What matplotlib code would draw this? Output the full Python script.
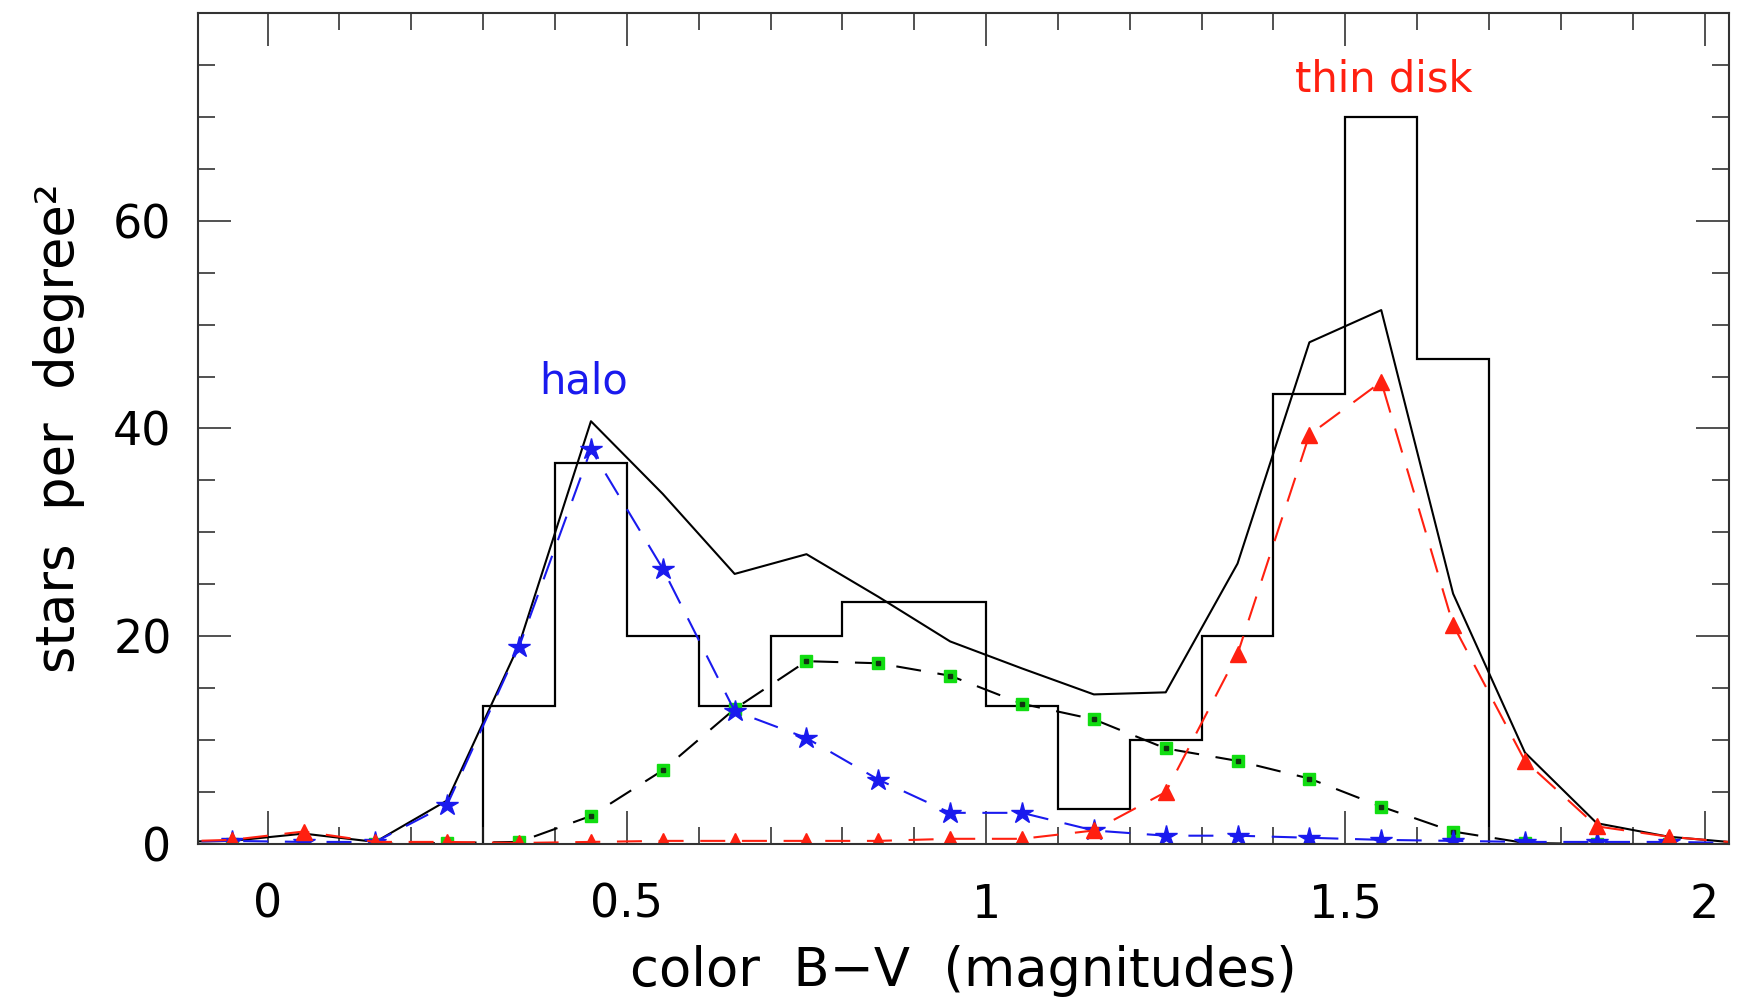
import numpy as np
import matplotlib.pyplot as plt
from matplotlib.ticker import MultipleLocator

# observed histogram: bin edges (B-V) and stars per square degree
edges = np.round(np.arange(0.3, 1.71, 0.1), 2)
observed = [13.33, 36.67, 20.0, 13.33, 20.0, 23.33, 23.33, 13.33, 3.33,
            10.0, 20.0, 43.33, 70.0, 46.67]

# model curves at bin centres (first/last points only extend the lines to the frame)
centres = np.round(np.arange(-0.15, 2.06, 0.1), 2)
total = [0.2, 0.3, 1.0, 0.2, 4.2, 19.2, 40.7, 33.7, 26.0, 27.9, 23.8, 19.5,
         16.9, 14.4, 14.6, 27.0, 48.3, 51.4, 24.1, 8.8, 2.0, 0.7, 0.1]
halo = [0.2, 0.3, 0.2, 0.2, 3.8, 19.0, 38.0, 26.5, 12.8, 10.2, 6.2, 3.0,
        3.0, 1.3, 0.8, 0.8, 0.6, 0.4, 0.3, 0.2, 0.2, 0.2, 0.1]
thick = [0.0, 0.0, 0.0, 0.0, 0.1, 0.2, 2.7, 7.1, 13.0, 17.6, 17.4, 16.2,
         13.5, 12.0, 9.2, 8.0, 6.3, 3.6, 1.2, 0.1, 0.0, 0.0, 0.0]
thin = [0.2, 0.4, 1.2, 0.2, 0.2, 0.1, 0.2, 0.3, 0.3, 0.3, 0.3, 0.5,
        0.5, 1.3, 5.0, 18.3, 39.4, 44.5, 21.1, 8.0, 1.7, 0.7, 0.1]

fig = plt.figure(figsize=(17.41, 10), dpi=100)
ax = fig.add_axes([0.1137, 0.156, 0.8794, 0.831])

ax.stairs(observed, edges, baseline=0, color='black', lw=1.6)
ax.plot(centres, total, color='black', lw=1.5)

mk = slice(1, -1)
dash = (12, 8)
ax.plot(centres, thick, color='black', lw=1.5, dashes=dash,
        marker='s', ms=8, mfc='#11dd11', mec='#11dd11', markevery=mk)
ax.plot(centres[mk], thick[1:-1], ls='none', marker='s', ms=3, color='#113311')
ax.plot(centres, halo, color='#1a1aee', lw=1.5, dashes=dash,
        marker='*', ms=16, mfc='#1a1aee', mec='#1a1aee', markevery=mk)
ax.plot(centres, thin, color='#ff2010', lw=1.5, dashes=dash,
        marker='^', ms=11, mfc='#ff2010', mec='#ff2010', markevery=mk)

ax.text(0.44, 44.5, 'halo', color='#1a1aee', fontsize=30, ha='center', va='center')
ax.text(1.553, 73.6, 'thin disk', color='#ff2010', fontsize=30, ha='center', va='center')

ax.set_xlim(-0.097, 2.034)
ax.set_ylim(0, 80)
ax.set_xticks([0, 0.5, 1, 1.5, 2], ['0', '0.5', '1', '1.5', '2'])
ax.set_yticks([0, 20, 40, 60])
ax.xaxis.set_minor_locator(MultipleLocator(0.1))
ax.yaxis.set_minor_locator(MultipleLocator(5))

ax.tick_params(which='both', direction='in', top=True, right=True, width=1.1,
               labelsize=33, colors='#222222', labelcolor='black')
ax.tick_params(which='major', length=24)
ax.tick_params(which='minor', length=12)
ax.tick_params(axis='x', pad=28)
ax.tick_params(axis='y', pad=19)
for s in ax.spines.values():
    s.set_linewidth(1.5)
    s.set_color('#333333')

ax.set_xlabel('color  B\u2212V  (magnitudes)', fontsize=38, labelpad=12)
ax.set_ylabel('stars  per  degree\u00b2', fontsize=38, labelpad=20)

plt.savefig('out.png', dpi=100)
